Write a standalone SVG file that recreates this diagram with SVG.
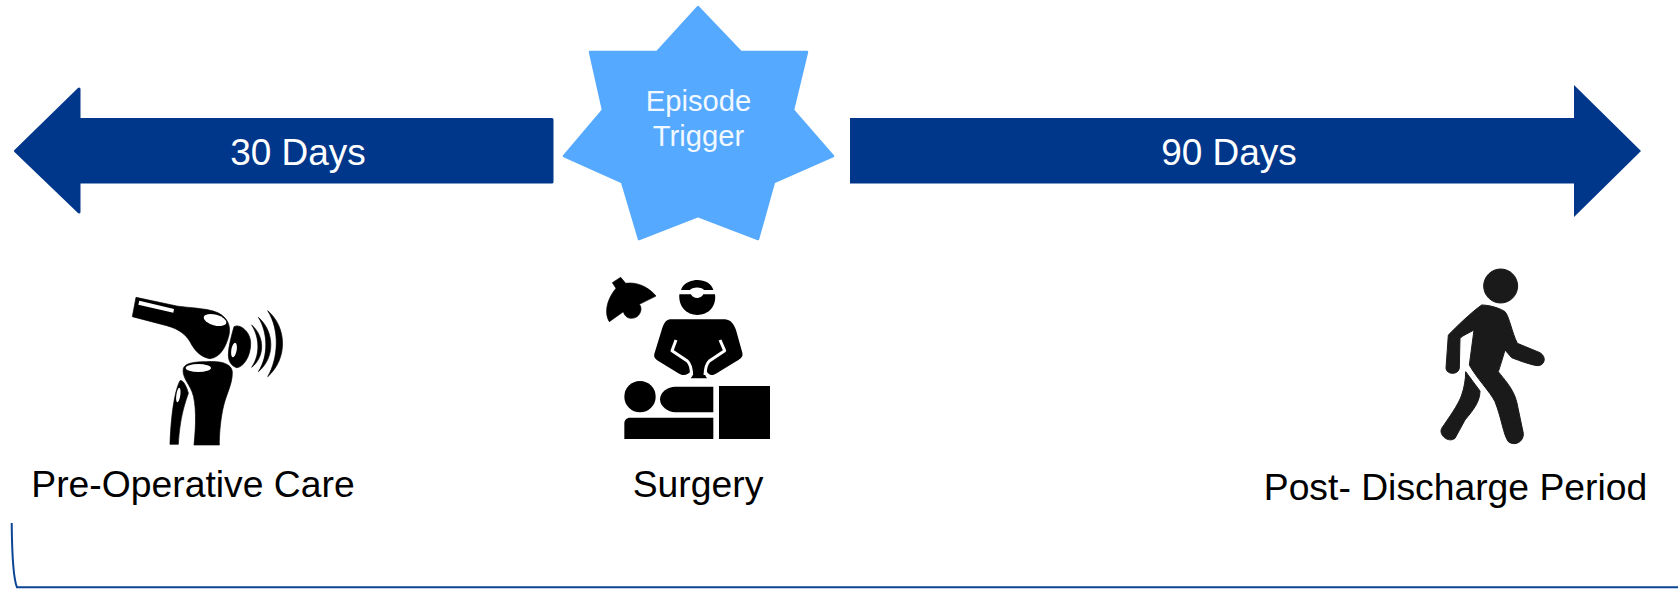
<svg xmlns="http://www.w3.org/2000/svg" width="1678" height="591" viewBox="0 0 1678 591">
<style>
text{font-family:"Liberation Sans",Arial,sans-serif}
.a{fill:#00378b;stroke:#00378b;stroke-width:3;stroke-linejoin:round}
.al{font-size:37px;fill:#fff;text-anchor:middle}
.lb{font-size:37.3px;fill:#000;text-anchor:middle}
.st{font-size:29.2px;fill:#f2f8ff;text-anchor:middle}
.w{fill:#fff}
.wl{fill:none;stroke:#fff;stroke-width:9;stroke-linejoin:round}
.ic{stroke:#000;stroke-width:2;stroke-linejoin:round}
</style>
<rect width="1678" height="591" fill="#fff"/>
<g id="connectors">
<path d="M11.700,523 C12,555 13,578 17,587.300 H1678" fill="none" stroke="#0b4596" stroke-width="2"/>
</g>
<g id="arrow-30-days">
<path class="a" d="M552,119.500 V182 H79 V212 L15.500,151 L79,89 V119.500 Z"/>
<text class="al" x="298" y="165">30 Days</text>
</g>
<g id="arrow-90-days">
<path d="M850,118 H1574 V85 L1641,151 L1574,217 V183.500 H850 Z" fill="#00378b"/>
<text class="al" x="1229" y="165">90 Days</text>
</g>
<g id="episode-trigger">
<path d="M698,7 L741,52 H807 L793,110 L833,156 L774,182 L758,239 L698,216 L639,239 L622,182 L564,156 L603,110 L590,52 H657 Z" fill="#55a9ff" stroke="#55a9ff" stroke-width="2.500" stroke-linejoin="round"/>
<text class="st" x="698.500" y="111">Episode</text>
<text class="st" x="698.500" y="146">Trigger</text>
</g>
<g id="pre-operative-care">
<g transform="translate(100,260) scale(.33333)">
<path class="ic" d="M108,112 L230,138 C280,145 340,145 365,165 C385,180 392,200 387,225 C378,260 362,292 330,296 C305,292 285,275 270,245 C258,225 240,208 200,197 L97,170 Z"/>
<path class="w" d="M118,122 L222,147 L220,158 L115,134 Z"/>
<ellipse class="w" cx="345" cy="180" rx="35" ry="16" transform="rotate(15 345 180)"/>
<path class="ic" d="M402,200 C420,190 452,215 452,250 C452,290 430,322 410,323 C395,318 385,305 385,285 C385,260 395,225 402,200 Z"/>
<ellipse class="w" cx="402" cy="270" rx="8" ry="22" transform="rotate(10 402 270)"/>
<path class="ic" d="M455,195 C495,230 495,290 455,322 C480,285 480,235 455,195 Z"/>
<path class="ic" d="M475,172 C525,215 525,295 475,335 C505,290 505,220 475,172 Z"/>
<path class="ic" d="M503,152 C560,200 565,295 503,350 C535,295 540,210 503,152 Z"/>
<path class="ic" d="M250,325 C255,310 280,305 320,305 C360,302 395,310 397,335 C398,375 378,400 368,450 C360,490 358,530 358,555 L282,555 C288,500 290,430 276,395 C266,370 245,350 250,325 Z"/>
<ellipse class="w" cx="295" cy="324" rx="38" ry="12"/>
<path class="ic" d="M240,362 C250,358 262,385 265,400 C255,430 240,470 235,553 L210,553 C212,490 220,400 240,362 Z"/>
<ellipse class="w" cx="235" cy="405" rx="6" ry="22" transform="rotate(8 235 405)"/>
</g>
<text class="lb" x="193" y="497">Pre-Operative Care</text>
</g>
<g id="surgery">
<g transform="translate(580,260) scale(.33333)">
<path class="ic" d="M97,68 L122,52 L137,70 C170,65 205,80 228,108 L178,133 C190,145 180,175 155,175 C140,175 133,165 130,155 L88,185 C75,165 75,125 108,85 Z"/>
<path d="M303,90 C310,65 340,60 352,60 C375,60 395,70 400,90 L372,90 C368,80 335,80 330,90 Z"/>
<path d="M298,103 H333 C340,118 362,118 370,103 H405 C410,140 385,165 352,165 C320,165 295,140 298,103 Z"/>
<path d="M270,178 H435 C455,180 462,195 468,210 L487,278 C490,290 482,296 470,303 L410,340 C395,350 385,345 378,330 C375,340 372,345 382,355 H332 C342,345 340,335 335,330 C325,345 310,350 295,340 L235,303 C222,295 220,288 225,275 L245,210 C250,195 255,180 270,178 Z"/>
<path class="wl" d="M288,240 L276,272 L322,303 C332,312 334,325 335,345"/>
<path class="wl" d="M420,240 L434,272 L388,303 C378,312 376,325 375,345"/>
<circle cx="180" cy="410" r="47"/>
<path d="M285,380 H400 V457 H285 C265,457 240,440 240,418 C240,395 265,380 285,380 Z"/>
<path d="M150,473 H400 V537 H133 V490 C133,480 140,473 150,473 Z"/>
<rect x="417" y="378" width="153" height="159"/>
</g>
<text class="lb" x="698" y="497">Surgery</text>
</g>
<g id="post-discharge-period">
<g transform="translate(1400,255) scale(.33333)" fill="#1a1a1a" stroke="#1a1a1a" stroke-width="3" stroke-linejoin="round">
<circle cx="302" cy="93" r="51"/>
<path d="M245,150 C270,150 300,160 315,170 C328,185 335,230 352,265 L420,293 C440,305 435,330 415,332 C400,332 360,318 335,308 L315,285 C308,310 300,335 295,350 C310,370 340,400 350,440 L370,535 C372,560 345,575 325,560 C310,540 305,490 285,440 C270,410 230,370 208,330 L222,225 C205,235 190,240 180,250 L178,340 C175,360 140,360 138,340 L145,240 C170,215 210,175 245,150 Z"/>
<path d="M197,350 L240,408 C240,440 220,465 195,495 L165,550 C145,565 115,540 125,520 C145,490 175,450 185,420 C192,400 197,375 197,350 Z"/>
</g>
<text class="lb" x="1455.500" y="500">Post- Discharge Period</text>
</g>
</svg>
